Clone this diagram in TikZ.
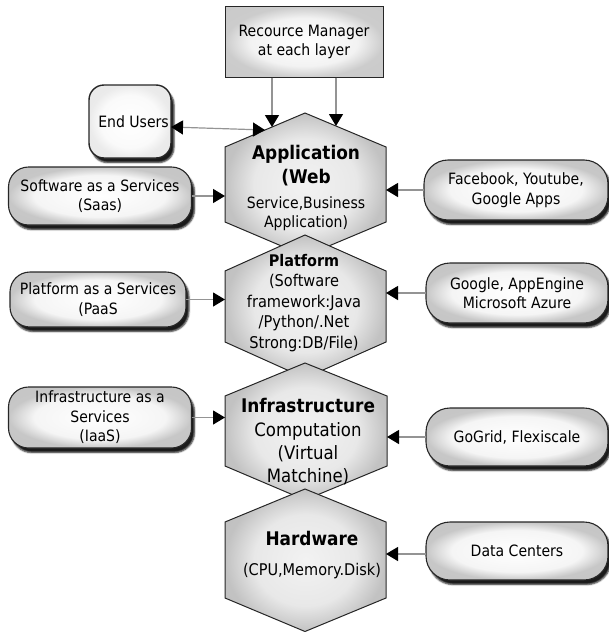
\documentclass[tikz,border=0pt]{standalone}
\usepackage{fontspec}
\setmainfont{DejaVu Sans}[FakeStretch=0.9]
\usetikzlibrary{arrows.meta,shadows.blur}

\newcommand\bodytext{\fontsize{15.6}{19.5}\selectfont\lineskiplimit=-50pt}
\newcommand\titletext{\fontsize{18.8}{19.5}\selectfont\bfseries}
\newcommand\platbody{\fontsize{16.2}{20.5}\selectfont\lineskiplimit=-50pt}
\newcommand\plattitle{\fontsize{16}{20.5}\selectfont\bfseries}
\newcommand\infrabody{\fontsize{18.4}{23}\selectfont\lineskiplimit=-50pt}
\newcommand\hwbody{\fontsize{16.1}{20}\selectfont\lineskiplimit=-50pt}

% soft radial fills: light in the middle, grey towards the rim
\pgfdeclareradialshading{softbox}{\pgfpoint{0bp}{0bp}}{%
  color(0bp)=(white); color(18bp)=(white!96!black); color(25bp)=(black!22); color(50bp)=(black!24)}
\pgfdeclareradialshading{softmgr}{\pgfpoint{0bp}{0bp}}{%
  color(0bp)=(white); color(17bp)=(white!95!black); color(25bp)=(black!20); color(50bp)=(black!22)}
\pgfdeclareradialshading{softuser}{\pgfpoint{0bp}{0bp}}{%
  color(0bp)=(white); color(18bp)=(white!98!black); color(25bp)=(black!8); color(50bp)=(black!9)}
\pgfdeclareradialshading{softlayer}{\pgfpoint{0bp}{0bp}}{%
  color(0bp)=(black!5); color(16bp)=(black!9); color(25bp)=(black!24); color(50bp)=(black!26)}

\begin{document}
\begin{tikzpicture}[x=1pt,y=-1pt,
  every node/.style={inner sep=0pt,outer sep=0pt},
  boxshadow/.style={blur shadow={shadow xshift=3pt,shadow yshift=-4.5pt,
      shadow opacity=90,shadow blur radius=1.6pt}},
  pill/.style={draw=black!85,line width=1.1pt,rounded corners=20pt,
      shade,shading=softbox,boxshadow,
      align=center,font=\bodytext},
  userbox/.style={draw=black!85,line width=1.4pt,rounded corners=15pt,
      shade,shading=softuser,boxshadow,
      align=center,font=\bodytext},
  mgrbox/.style={draw=black!85,line width=1pt,
      shade,shading=softmgr,
      align=center,font=\bodytext},
  layer/.style={draw=black!85,line width=1pt,shade,shading=softlayer},
  layertext/.style={align=center,font=\bodytext},
  conn/.style={draw=black!42,line width=1.2pt,
      -{Triangle[length=12pt,width=14pt,color=black]}},
  dconn/.style={draw=black!42,line width=1.2pt,
      {Triangle[length=12pt,width=14pt,color=black]}-{Triangle[length=12pt,width=14pt,color=black]}}
]
\useasboundingbox (0,0) rectangle (609,632);

% ---- stacked service layers, drawn top to bottom ----
\path[layer] (305,113) -- (386,147) -- (386,222) -- (305,256) -- (225,222) -- (225,147) -- cycle;
\node[layertext] (app) at (306,188)
  {{\titletext Application}\\[4pt]{\titletext (Web}\\[5.5pt]Service,Business\\Application)};

\path[layer] (305,235) -- (386,271) -- (386,342) -- (305,378) -- (225,342) -- (225,271) -- cycle;
\node[layertext,font=\platbody] (plat) at (304,303)
  {{\plattitle Platform}\\(Software\\framework:Java\\/Python/.Net\\Strong:DB/File)};

\path[layer] (305,363) -- (387,396) -- (387,466) -- (305,500) -- (225,466) -- (225,396) -- cycle;
\node[layertext,font=\infrabody] (infra) at (308,441.5)
  {{\titletext Infrastructure}\\[1pt]Computation\\(Virtual\\Matchine)};

\path[layer] (305,489) -- (386,522) -- (386,598) -- (305,631.5) -- (225,598) -- (225,522) -- cycle;
\node[layertext,font=\hwbody] (hw) at (312,555)
  {{\titletext Hardware}\\[10pt](CPU,Memory.Disk)};

% ---- points where connectors meet the layer outlines ----
\coordinate (app-n1) at (272,127);
\coordinate (app-n2) at (336,126);
\coordinate (app-nw) at (265,130);
\coordinate (app-w) at (225,184);
\coordinate (app-e) at (386,184);
\coordinate (plat-w) at (225,300);
\coordinate (plat-e) at (386,300);
\coordinate (infra-w) at (225,430);
\coordinate (infra-e) at (387,430);
\coordinate (hw-e) at (386,554);

% ---- surrounding boxes ----
\node[mgrbox,minimum width=158pt,minimum height=71pt] (rm) at (304,42)
  {Recource Manager\\at each layer};
\node[userbox,minimum width=82pt,minimum height=73pt] (eu) at (130,121.5)
  {\hspace*{7pt}End Users};

\node[pill,minimum width=183pt,minimum height=58pt] (saas) at (100,196)
  {Software as a Services\\(Saas)};
\node[pill,minimum width=176pt,minimum height=55pt] (paas) at (98,299.5)
  {Platform as a Services\\(PaaS};
\node[pill,minimum width=183pt,minimum height=61pt] (iaas) at (100,417.5)
  {Infrastructure as a\\Services\\(IaaS)};

\node[pill,rounded corners=24pt,minimum width=184pt,minimum height=60pt] (fb) at (516,190)
  {Facebook, Youtube,\\Google Apps};
\node[pill,rounded corners=24pt,minimum width=182pt,minimum height=60pt] (goog) at (517,293)
  {Google, AppEngine\\Microsoft Azure};
\node[pill,rounded corners=24pt,minimum width=182pt,minimum height=58pt] (gogrid) at (517,437)
  {GoGrid, Flexiscale};
\node[pill,rounded corners=24pt,minimum width=182pt,minimum height=58pt] (dc) at (517,551)
  {\raisebox{-5pt}{Data Centers}};

% ---- connectors ----
\draw[conn] (rm.south -| app-n1) -- (app-n1);
\draw[conn] (rm.south -| app-n2) -- (app-n2);
\draw[dconn] ([yshift=-5.5pt]eu.east) -- (app-nw);
\draw[conn] (saas.east) -- (saas.east -| app-w);
\draw[conn] (fb.west) -- (fb.west -| app-e);
\draw[conn] (paas.east) -- (paas.east -| plat-w);
\draw[conn] (goog.west) -- (goog.west -| plat-e);
\draw[conn] (iaas.east) -- (iaas.east -| infra-w);
\draw[conn] (gogrid.west) -- (gogrid.west -| infra-e);
\draw[conn] (dc.west |- hw-e) -- (hw-e);
\end{tikzpicture}
\end{document}
